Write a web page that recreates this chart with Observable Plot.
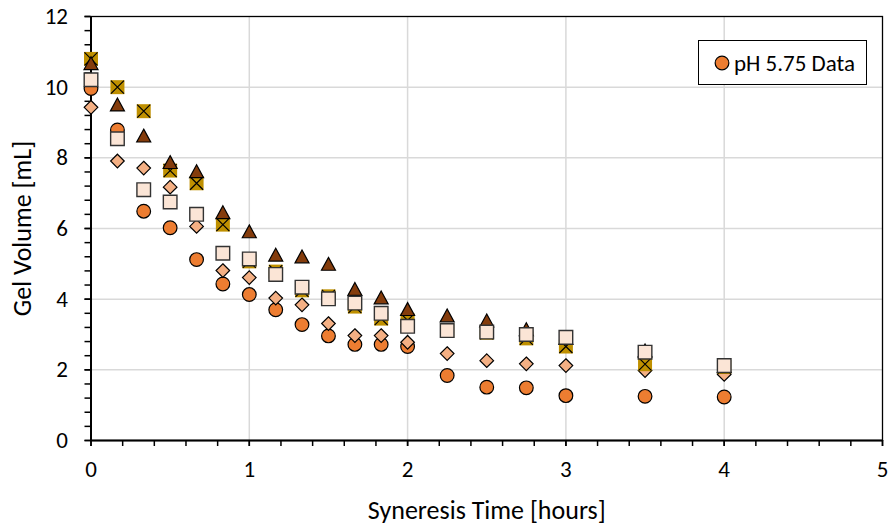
<!DOCTYPE html>
<html>
<head>
<meta charset="utf-8">
<script src="https://cdn.jsdelivr.net/npm/d3@7"></script>
<script src="https://cdn.jsdelivr.net/npm/@observablehq/plot@0.6"></script>
<style>
  body { margin: 0; background: white; }
  #wrap { position: relative; width: 891px; height: 528px; font-family: Carlito, Calibri, Lato, sans-serif; }
  #legend { position: absolute; left: 698px; top: 40px; width: 167px; height: 43px; border: 1.3px solid #000; background: white; display: flex; align-items: center; }
  #legend svg { margin-left: 15px; margin-right: 4px; }
  #legend span { font-size: 23px; color: #000; white-space: nowrap; }
</style>
</head>
<body>
<div id="wrap"></div>
<script>
// Syneresis time [hours]
const times = [0, 0.167, 0.333, 0.5, 0.667, 0.833, 1, 1.167, 1.333, 1.5, 1.667, 1.833, 2, 2.25, 2.5, 2.75, 3, 3.5, 4];
// Gel volume [mL] series
const circles   = [9.96, 8.79, 6.49, 6.02, 5.12, 4.43, 4.13, 3.70, 3.28, 2.96, 2.72, 2.72, 2.66, 1.84, 1.51, 1.49, 1.27, 1.25, 1.23];
const diamonds  = [9.43, 7.91, 7.71, 7.17, 6.06, 4.81, 4.61, 4.03, 3.84, 3.31, 2.97, 2.97, 2.78, 2.46, 2.26, 2.17, 2.12, 1.98, 1.87];
const goldX     = [10.80, 10.00, 9.32, 7.64, 7.28, 6.11, 5.07, 4.78, 4.25, 4.08, 3.79, 3.45, 3.40, 3.10, 3.05, 2.89, 2.66, 2.16, 2.08];
const triangles = [10.68, 9.51, 8.63, 7.88, 7.62, 6.46, 5.92, 5.26, 5.21, 5.00, 4.29, 4.05, 3.72, 3.54, 3.40, 3.15, 2.90, 2.55, 2.10];
const squares   = [10.21, 8.54, 7.10, 6.75, 6.40, 5.30, 5.14, 4.70, 4.34, 4.01, 3.89, 3.60, 3.23, 3.11, 3.07, 3.00, 2.92, 2.50, 2.12];

const legendLabel = "pH 5.75 Data";
const xTitle = "Syneresis Time [hours]";
const yTitle = "Gel Volume [mL]";
const xMajor = [0, 1, 2, 3, 4, 5];
const yMajor = [0, 2, 4, 6, 8, 10, 12];

const xMinor = d3.range(0, 26).map(i => i * 0.2);
const yMinor = d3.range(0, 31).map(i => i * 0.4);

const rows = arr => times.map((t, i) => ({t, v: arr[i]}));

const rad = size => Math.sqrt(size / Math.PI);
const symCircle = {draw(c, s) { const r = rad(s); c.moveTo(r, 0); c.arc(0, 0, r, 0, 2 * Math.PI); }};
const symSquare = {draw(c, s) { const r = rad(s); c.rect(-r, -r, 2 * r, 2 * r); }};
const symDiamond = {draw(c, s) { const r = rad(s); c.moveTo(0, -r); c.lineTo(r, 0); c.lineTo(0, r); c.lineTo(-r, 0); c.closePath(); }};
const symTriangle = {draw(c, s) { const r = rad(s); c.moveTo(0, -0.92 * r); c.lineTo(r, 0.92 * r); c.lineTo(-r, 0.92 * r); c.closePath(); }};
const symX = {draw(c, s) { const r = rad(s); c.moveTo(-r, -r); c.lineTo(r, r); c.moveTo(r, -r); c.lineTo(-r, r); }};

const FONT = "Carlito, Calibri, Lato, sans-serif";

const chart = Plot.plot({
  width: 891,
  height: 528,
  marginLeft: 90.5,
  marginRight: 9,
  marginTop: 16,
  marginBottom: 88,
  style: {fontFamily: FONT, background: "white", color: "#000"},
  x: {domain: [0, 5]},
  y: {domain: [0, 12]},
  marks: [
    Plot.gridX([1, 2, 3, 4], {stroke: "#d9d9d9", strokeOpacity: 1, strokeWidth: 1.5}),
    Plot.gridY([2, 4, 6, 8, 10], {stroke: "#d9d9d9", strokeOpacity: 1, strokeWidth: 1.5}),
    Plot.frame({stroke: "#000", strokeWidth: 1.3}),
    Plot.axisX({ticks: xMinor, tickSize: 6, tickFormat: () => "", label: null, strokeWidth: 1.5}),
    Plot.axisX({ticks: xMajor, tickSize: 6, tickPadding: 14, tickFormat: d => String(d), label: null, fontSize: 23, strokeWidth: 1.5}),
    Plot.axisY({ticks: yMinor, tickSize: 6, tickFormat: () => "", label: null, strokeWidth: 1.5}),
    Plot.axisY({ticks: yMajor, tickSize: 6, tickPadding: 17, tickFormat: d => String(d), label: null, fontSize: 23, strokeWidth: 1.5}),
    Plot.ruleX([0], {stroke: "#000", strokeWidth: 2}),
    Plot.ruleY([0], {stroke: "#000", strokeWidth: 2}),
    Plot.dot(rows(circles), {x: "t", y: "v", r: 6.85, symbol: symCircle, fill: "#ED7D31", stroke: "#000", strokeWidth: 1.2}),
    Plot.dot(rows(diamonds), {x: "t", y: "v", r: 6.8, symbol: symDiamond, fill: "#F4B084", stroke: "#000", strokeWidth: 1.2}),
    Plot.dot(rows(goldX), {x: "t", y: "v", r: 7, symbol: symSquare, fill: "#BF9000", stroke: "none"}),
    Plot.dot(rows(goldX), {x: "t", y: "v", r: 6.5, symbol: symX, fill: "none", stroke: "#000", strokeWidth: 1.2}),
    Plot.dot(rows(triangles), {x: "t", y: "v", r: 7, symbol: symTriangle, fill: "#843C0C", stroke: "#000", strokeWidth: 1.2}),
    Plot.dot(rows(squares), {x: "t", y: "v", r: 6.8, symbol: symSquare, fill: "#FBE5D6", stroke: "#333", strokeWidth: 1.4}),
    Plot.text([xTitle], {frameAnchor: "bottom", dy: 70, lineAnchor: "middle", textAnchor: "middle", fontSize: 26, fill: "#000"}),
    Plot.text([yTitle], {frameAnchor: "left", dx: -68, rotate: -90, lineAnchor: "middle", textAnchor: "middle", fontSize: 26, fill: "#000"})
  ]
});

const wrap = document.getElementById("wrap");
wrap.appendChild(chart);

const legend = document.createElement("div");
legend.id = "legend";
legend.innerHTML = `<svg width="16" height="16"><circle cx="8" cy="8" r="6.85" fill="#ED7D31" stroke="#000" stroke-width="1.2"/></svg><span></span>`;
legend.querySelector("span").textContent = legendLabel;
wrap.appendChild(legend);
</script>
</body>
</html>
